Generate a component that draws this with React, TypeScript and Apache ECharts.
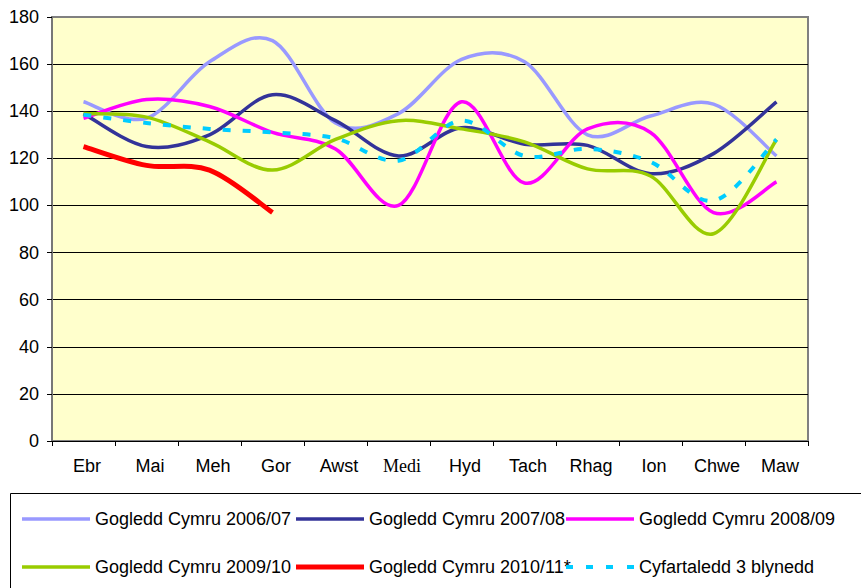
import React, { useEffect, useRef } from "react";
import * as echarts from "echarts";

const categories = ["Ebr", "Mai", "Meh", "Gor", "Awst", "Medi", "Hyd", "Tach", "Rhag", "Ion", "Chwe", "Maw"];
const yTicks = [0, 20, 40, 60, 80, 100, 120, 140, 160, 180];

const names = [
  "Gogledd Cymru 2006/07",
  "Gogledd Cymru 2007/08",
  "Gogledd Cymru 2008/09",
  "Gogledd Cymru 2009/10",
  "Gogledd Cymru 2010/11*",
  "Cyfartaledd 3 blynedd",
];

const s0607 = [144, 137, 161, 170, 135, 139, 162, 161, 130, 138, 143, 121];
const s0708 = [139, 125, 130, 147, 136, 121, 133, 126, 125.5, 113.5, 122, 144];
const s0809 = [137, 145, 142, 131, 124, 100, 144, 109.5, 132.5, 131, 97, 110];
const s0910 = [139, 137.5, 127, 115, 128, 136, 132.5, 127, 115.5, 112.5, 88, 128];
const s1011 = [125, 117, 115, 97];
const avg3 = [138.5, 135, 132.5, 131, 128.5, 119, 136, 121, 124, 118.5, 102, 128];

const colors = ["#9999FF", "#333399", "#FF00FF", "#99CC00", "#FF0000", "#00CCFF"];
const widths = [3.5, 3.5, 3.5, 3.5, 5, 4];
const seriesData = [s0607, s0708, s0809, s0910, s1011, avg3];

// Excel-style smoothed path (uniform Catmull-Rom as cubic Bezier)
function smoothPath(pts: number[][]): string {
  if (!pts.length) return "";
  let d = `M${pts[0][0]},${pts[0][1]}`;
  for (let i = 0; i < pts.length - 1; i++) {
    const p0 = pts[i - 1] || pts[i];
    const p1 = pts[i];
    const p2 = pts[i + 1];
    const p3 = pts[i + 2] || pts[i + 1];
    const c1x = p1[0] + (p2[0] - p0[0]) / 6;
    const c1y = p1[1] + (p2[1] - p0[1]) / 6;
    const c2x = p2[0] - (p3[0] - p1[0]) / 6;
    const c2y = p2[1] - (p3[1] - p1[1]) / 6;
    d += ` C${c1x},${c1y} ${c2x},${c2y} ${p2[0]},${p2[1]}`;
  }
  return d;
}

export default function App() {
  const ref = useRef<HTMLDivElement>(null);
  useEffect(() => {
    if (!ref.current) return;
    const chart = echarts.init(ref.current, null, { renderer: "svg" });
    const font = "'Liberation Sans', Arial, sans-serif";
    const legendPos = [
      [22, 509], [296, 509], [566, 509],
      [22, 557], [296, 557], [566, 557],
    ];
    const legendIcon = (i: number) =>
      i === 5
        ? "path://M0,0h7v4h-7z M20,0h7v4h-7z M40,0h7v4h-7z M61,0h7v4h-7z"
        : `path://M0,0H68V${widths[i]}H0Z`;
    const option: any = {
      animation: false,
      backgroundColor: "#FFFFFF",
      grid: {
        left: 52,
        right: 53,
        top: 17,
        bottom: 147,
        show: true,
        backgroundColor: "#FFFFCC",
        borderColor: "#808080",
        borderWidth: 2,
        outerBoundsMode: "none",
      },
      xAxis: {
        type: "category",
        data: categories,
        boundaryGap: true,
        axisLine: { lineStyle: { color: "#000", width: 1 } },
        axisTick: { show: true, length: 5, lineStyle: { color: "#000" } },
        axisLabel: {
          fontSize: 18,
          fontFamily: font,
          color: "#000",
          margin: 16,
          interval: 0,
          padding: [0, 0, 0, 7],
          formatter: (v: string) => (v === "Medi" ? "{s|" + v + "}" : v),
          rich: { s: { fontFamily: "'Liberation Serif', 'Times New Roman', serif", fontSize: 18, color: "#000" } },
        },
        splitLine: { show: false },
      },
      yAxis: {
        type: "value",
        min: yTicks[0],
        max: yTicks[yTicks.length - 1],
        interval: 20,
        axisLine: { show: true, lineStyle: { color: "#777", width: 2 } },
        axisTick: { show: true, length: 5, lineStyle: { color: "#000" } },
        axisLabel: { fontSize: 18, fontFamily: font, color: "#000", margin: 13 },
        splitLine: {
          show: true,
          lineStyle: {
            color: ["#000", "#000", "#000", "#000", "#000", "#000", "#000", "#000", "#000", "#808080"],
            width: 1,
          },
        },
      },
      legend: names.map((n, i) => ({
        data: [n],
        left: legendPos[i][0],
        top: legendPos[i][1],
        orient: "horizontal",
        icon: legendIcon(i),
        itemWidth: 68,
        itemHeight: 20,
        itemGap: 0,
        padding: 0,
        textStyle: { fontSize: 18, fontFamily: font, color: "#000", lineHeight: 20 },
      })),
      graphic: [
        {
          type: "rect",
          shape: { x: 10.5, y: 493.5, width: 900, height: 200 },
          style: { fill: "none", stroke: "#000", lineWidth: 1 },
          z: 0,
          silent: true,
        },
      ],
      series: seriesData.map((d, i) => ({
        name: names[i],
        type: "custom",
        data: d.map((v, k) => [k, v]),
        itemStyle: { color: colors[i] },
        z: i === 5 ? 10 : 2 + i,
        silent: true,
        renderItem: (params: any, api: any) => {
          if (params.dataIndex !== 0) return null;
          const pts = d.map((v, k) => api.coord([k, v]));
          return {
            type: "path",
            shape: { pathData: smoothPath(pts) },
            style: {
              fill: "none",
              stroke: colors[i],
              lineWidth: widths[i],
              lineDash: i === 5 ? [8, 12] : null,
              lineCap: "butt",
              lineJoin: "round",
            },
          };
        },
      })),
    };
    chart.setOption(option);
    return () => chart.dispose();
  }, []);
  return <div ref={ref} style={{ position: "fixed", left: 0, top: 0, width: 861, height: 588 }} />;
}
